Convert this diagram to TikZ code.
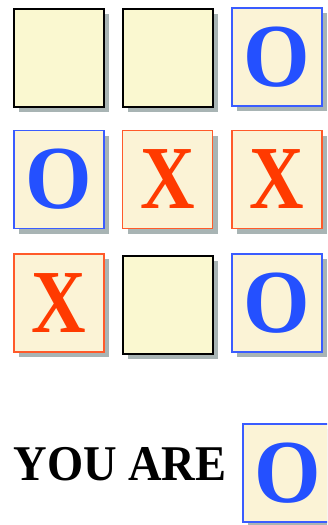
\documentclass[tikz,border=0pt]{standalone}
\usepackage{fontspec}
\setmainfont{Liberation Serif}
\usetikzlibrary{shadows}
\definecolor{emptyfill}{HTML}{FAF8D0}
\definecolor{markfill}{HTML}{FBF3D6}
\definecolor{oblue}{HTML}{2450FF}
\definecolor{oborder}{HTML}{3A5CFF}
\definecolor{xred}{HTML}{FF3A00}
\definecolor{xborder}{HTML}{FF5A2A}
\definecolor{shadowc}{HTML}{A8B4B4}
\tikzset{
  cell/.style={rectangle, minimum width=90pt, minimum height=98pt, inner sep=0pt,
    drop shadow={shadow xshift=5pt, shadow yshift=-5pt, fill=shadowc, opacity=1}},
  emptycell/.style={cell, draw=black, line width=2pt, fill=emptyfill},
  ocell/.style={cell, draw=oborder, line width=1.8pt, fill=markfill, text=oblue,
    font=\bfseries\fontsize{90}{90}\selectfont},
  xcell/.style={cell, draw=xborder, line width=1.8pt, fill=markfill, text=xred,
    font=\bfseries\fontsize{90}{90}\selectfont},
}
\newcommand{\xmark}{\scalebox{0.84}[1]{X}}
\newcommand{\omark}{\scalebox{0.95}[1]{O}}
\begin{document}
\begin{tikzpicture}[x=1pt,y=-1pt]
\clip (0,0) rectangle (327,525);
\fill[white] (0,0) rectangle (327,525);
% row 1
\node[emptycell] (a1) at (59,58) {};
\node[emptycell] (a2) at (167.5,58) {};
\node[ocell] (a3) at (277,57) {\omark};
% row 2
\node[ocell] (b1) at (59,179.5) {\omark};
\node[xcell] (b2) at (167.5,179.5) {\xmark};
\node[xcell] (b3) at (277,179.5) {\xmark};
% row 3
\node[xcell] (c1) at (59,303) {\xmark};
\node[emptycell] (c2) at (167.5,305) {};
\node[ocell] (c3) at (277,303) {\omark};
% you are
\node[anchor=base, font=\bfseries\fontsize{50}{50}\selectfont, inner sep=0pt] (you) at (120,480) {\scalebox{0.93}[1]{YOU ARE}};
\node[ocell] (me) at (288,473) {\omark};
\end{tikzpicture}
\end{document}
